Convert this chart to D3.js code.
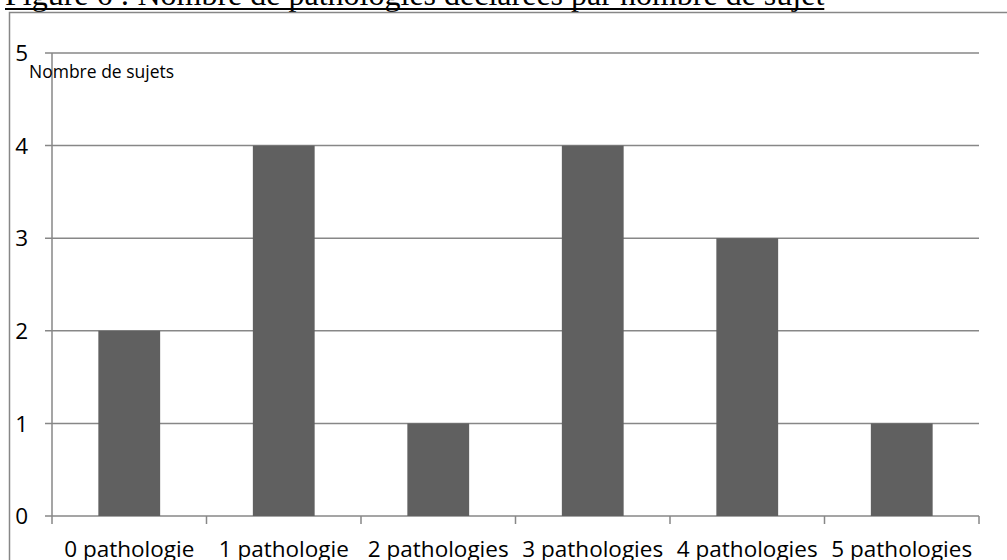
<!DOCTYPE html>
<html><head><meta charset="utf-8">
<script src="https://cdn.jsdelivr.net/npm/d3@7"></script>
<style>body{margin:0;background:#fff;} svg{display:block;}</style>
</head><body>
<svg id="chart" width="1007" height="560"></svg>
<script>
const categories = ["0 pathologie","1 pathologie","2 pathologies","3 pathologies","4 pathologies","5 pathologies"];
const values = [2,4,1,4,3,1];
const yTicks = [0,1,2,3,4,5];
const titleText = "Figure 6 : Nombre de pathologies déclarées par nombre de sujet";
const yTitle = "Nombre de sujets";

(function(){
const svg = d3.select("#chart");
const mLeft = 52, mRight = 979, mTop = 53, mBottom = 516;
const x = d3.scaleBand().domain(categories).range([mLeft, mRight]).paddingInner(0.6).paddingOuter(0.3);
const y = d3.scaleLinear().domain([0,5]).range([mBottom, mTop]);
const grey = "#878787";

// title
const t = svg.append("text").attr("x",5).attr("y",5)
  .attr("font-family","'Liberation Serif','Times New Roman',serif")
  .attr("font-size",32).attr("fill","#000").text(titleText);
const tw = t.node().getComputedTextLength();
svg.append("line").attr("x1",5).attr("x2",5+tw).attr("y1",9).attr("y2",9)
  .attr("stroke","#000").attr("stroke-width",2);

// outer frame
svg.append("path").attr("d","M9.5,560 V12.5 H1007").attr("fill","none")
  .attr("stroke",grey).attr("stroke-width",1.5);

// gridlines
svg.append("g").selectAll("line").data(yTicks).join("line")
  .attr("x1",45).attr("x2",mRight).attr("y1",d=>y(d)).attr("y2",d=>y(d))
  .attr("stroke",grey).attr("stroke-width",1.5);

// y axis line
svg.append("line").attr("x1",mLeft).attr("x2",mLeft).attr("y1",mTop).attr("y2",mBottom)
  .attr("stroke",grey).attr("stroke-width",1.5);

// x ticks at band boundaries
svg.append("g").selectAll("line").data(d3.range(categories.length+1)).join("line")
  .attr("x1",i=>mLeft + i*x.step()).attr("x2",i=>mLeft + i*x.step())
  .attr("y1",mBottom).attr("y2",mBottom+8)
  .attr("stroke",grey).attr("stroke-width",1.5);

// bars
svg.append("g").selectAll("rect").data(values).join("rect")
  .attr("x",(d,i)=>x(categories[i])).attr("width",x.bandwidth())
  .attr("y",d=>y(d)).attr("height",d=>mBottom-y(d)).attr("fill","#606060");

const font = "'Open Sans',sans-serif";
// y labels
svg.append("g").selectAll("text").data(yTicks).join("text")
  .attr("x",28).attr("y",d=>y(d)).attr("dy","0.36em").attr("text-anchor","end")
  .attr("font-family",font).attr("font-size",22.5).attr("fill","#000").text(d=>d);

// x labels
svg.append("g").selectAll("text").data(categories).join("text")
  .attr("x",d=>x(d)+x.bandwidth()/2).attr("y",557).attr("text-anchor","middle")
  .attr("font-family",font).attr("font-size",22.5).attr("fill","#000").text(d=>d);

// y title
svg.append("text").attr("x",29).attr("y",78).attr("font-family",font)
  .attr("font-size",17.5).attr("fill","#000").text(yTitle);
})();
</script>
</body></html>
